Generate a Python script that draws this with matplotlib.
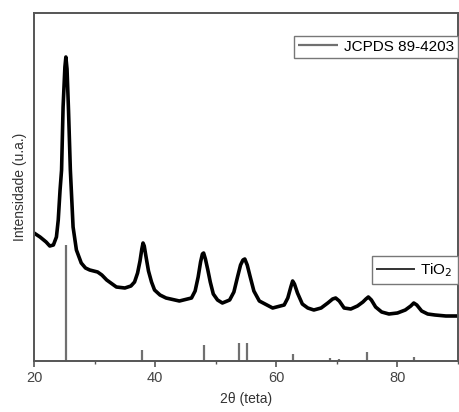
import matplotlib
matplotlib.use("Agg")
import matplotlib.pyplot as plt
from matplotlib.ticker import MultipleLocator

plt.rcParams['font.family'] = ['Liberation Sans', 'DejaVu Sans']

# TiO2 diffractogram (2theta, intensity a.u.)
two_theta = [20.0, 21.0, 22.0, 22.6, 23.2, 23.7, 24.0, 24.3, 24.55, 24.8, 25.1,
             25.26, 25.45, 25.7, 26.0, 26.45, 27.0, 27.8, 28.5, 29.2, 30.5,
             31.2, 32.0, 33.6, 35.0, 36.0, 36.6, 37.1, 37.5, 37.8, 38.0, 38.2,
             38.5, 38.9, 39.4, 39.9, 40.8, 41.8, 44.0, 46.0, 46.6, 47.1, 47.5,
             47.8, 48.0, 48.3, 48.7, 49.1, 49.6, 50.3, 51.1, 52.3, 53.0, 53.6,
             54.1, 54.5, 54.8, 55.2, 55.7, 56.3, 57.2, 59.4, 61.3, 61.9, 62.4,
             62.7, 63.0, 63.5, 64.3, 65.2, 66.2, 67.4, 68.5, 69.3, 69.8, 70.4,
             71.2, 72.3, 73.4, 74.3, 74.8, 75.2, 75.7, 76.4, 77.4, 78.6, 80.0,
             81.3, 82.2, 82.7, 83.2, 84.0, 85.0, 86.2, 88.0, 90.0]
intensity = [128, 124, 119, 115, 116, 124, 141, 171, 191, 254, 294,
             304, 292, 250, 191, 134, 111, 98, 93, 91, 89,
             86, 81, 74, 73, 75, 79, 88, 100, 112, 118, 115,
             104, 90, 79, 71, 66, 63, 60, 63, 70, 84, 99,
             107, 108, 102, 91, 79, 67, 61, 58, 61, 69, 84,
             96, 101, 102, 96, 84, 70, 60, 53, 56, 63, 74,
             80, 77, 68, 57, 53, 51, 53, 58, 62, 63, 60,
             53, 52, 55, 59, 62, 64, 61, 54, 49, 47, 48,
             51, 55, 58, 56, 50, 47, 46, 45, 45]

# JCPDS 89-4203 reference reflections
ref_pos = [25.3, 37.8, 48.0, 53.9, 55.1, 62.7, 68.8, 70.3, 75.0, 82.7]
ref_int = [116, 11, 16, 18, 18, 7, 3, 2, 9, 4]

fig = plt.figure(figsize=(4.59, 4.12), dpi=100)
ax = fig.add_axes([0.0741, 0.1238, 0.9237, 0.8446])

bars = ax.vlines(ref_pos, 0, ref_int, color='#707070', linewidth=1.6,
                 label='JCPDS 89-4203')
curve, = ax.plot(two_theta, intensity, color='black', linewidth=2.6,
                 solid_joinstyle='round', label='TiO$_2$')

ax.set_xlim(20, 90)
ax.set_ylim(0, 348)
ax.set_yticks([])
ax.xaxis.set_major_locator(MultipleLocator(20))
ax.xaxis.set_minor_locator(MultipleLocator(10))
ax.tick_params(axis='x', which='major', direction='out', length=4, width=1.2,
               labelsize=10.5, colors='#555555', labelcolor='#444444')
ax.tick_params(axis='x', which='minor', direction='out', length=2.5, width=1.0,
               colors='#555555')
for s in ax.spines.values():
    s.set_color('#555555')
    s.set_linewidth(1.4)

ax.set_xlabel('2θ (teta)', fontsize=10, color='#333333', labelpad=5)
ax.set_ylabel('Intensidade (u.a.)', fontsize=10, color='#333333', labelpad=5)

leg1 = ax.legend(handles=[bars], loc='upper right', bbox_to_anchor=(1.0, 0.934),
                 fontsize=11, fancybox=False, edgecolor='#777777',
                 handlelength=2.6, handletextpad=0.4, borderpad=0.25,
                 borderaxespad=0, framealpha=1)
leg1.get_frame().set_linewidth(1.0)
ax.add_artist(leg1)
leg2 = ax.legend(handles=[curve], loc='upper right', bbox_to_anchor=(1.0, 0.302),
                 fontsize=11, fancybox=False, edgecolor='#777777',
                 handlelength=2.4, handletextpad=0.4, borderpad=0.35,
                 borderaxespad=0, framealpha=1)
leg2.get_frame().set_linewidth(1.0)
leg2.get_lines()[0].set_color('#333333')
leg2.get_lines()[0].set_linewidth(1.4)

fig.savefig('out.png', dpi=100)
